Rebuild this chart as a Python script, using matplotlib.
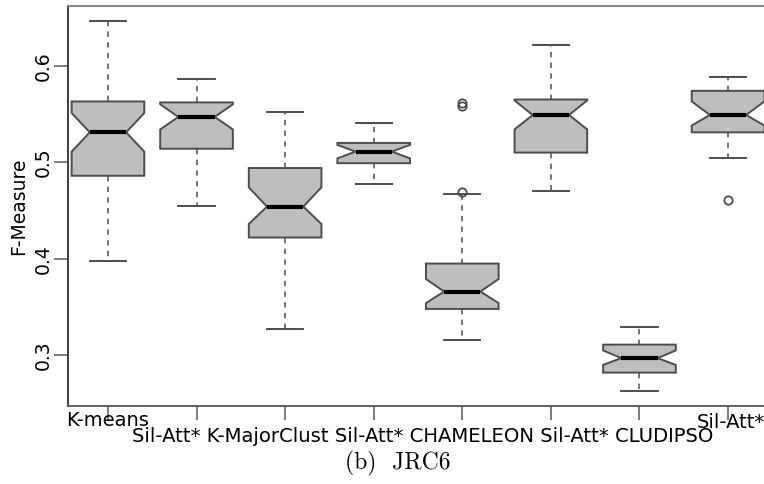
import matplotlib
matplotlib.use("Agg")
import matplotlib.pyplot as plt

# box statistics (F-Measure, JRC6)
methods = ["K-means", "Sil-Att*", "K-MajorClust", "Sil-Att*",
           "CHAMELEON", "Sil-Att*", "CLUDIPSO", "Sil-Att*"]
whis_lo = [0.398, 0.455, 0.327, 0.477, 0.316, 0.470, 0.263, 0.504]
q1 = [0.486, 0.514, 0.422, 0.499, 0.348, 0.510, 0.282, 0.531]
med = [0.531, 0.547, 0.454, 0.511, 0.366, 0.549, 0.297, 0.549]
q3 = [0.563, 0.562, 0.494, 0.520, 0.395, 0.565, 0.311, 0.574]
whis_hi = [0.646, 0.586, 0.552, 0.541, 0.467, 0.621, 0.329, 0.588]
notch_lo = [0.511, 0.534, 0.436, 0.504, 0.354, 0.534, 0.290, 0.538]
notch_hi = [0.551, 0.560, 0.474, 0.518, 0.379, 0.564, 0.305, 0.563]
outliers = [[], [], [], [], [0.561, 0.558, 0.469], [], [], [0.461]]

stats = []
for i in range(len(methods)):
    stats.append(dict(med=med[i], q1=q1[i], q3=q3[i],
                      whislo=whis_lo[i], whishi=whis_hi[i],
                      cilo=notch_lo[i], cihi=notch_hi[i],
                      fliers=outliers[i], label=methods[i]))

fig = plt.figure(figsize=(7.64, 4.84), dpi=100)
ax = fig.add_axes([68/764, 1 - 406/484, 1 - 68/764, 400/484])

edge = "#4d4d4d"
ax.bxp(stats, positions=range(1, 9), widths=0.82, shownotches=True,
       patch_artist=True,
       boxprops=dict(facecolor="#bebebe", edgecolor=edge, linewidth=1.4),
       medianprops=dict(color="black", linewidth=3),
       whiskerprops=dict(color=edge, linewidth=1.1, linestyle=(0, (3.5, 3.5))),
       capprops=dict(color=edge, linewidth=1.4),
       flierprops=dict(marker="o", markersize=6, markerfacecolor="none",
                       markeredgecolor=edge, markeredgewidth=1.3))

ax.set_xlim(0.549, 8.406)
ax.set_ylim(0.2474, 0.6619)
ax.set_yticks([0.3, 0.4, 0.5, 0.6])
ax.set_yticklabels(["0.3", "0.4", "0.5", "0.6"], rotation=90, va="center",
                   fontsize=13.5)
ax.set_xticks(range(1, 9))
ax.set_xticklabels([""] * 8)
ax.tick_params(axis="both", length=10, width=1.2, color="#666666", pad=3)
ax.tick_params(axis="y", pad=1)
ax.set_ylabel("F-Measure", fontsize=13.5, labelpad=4)

ax.spines["right"].set_visible(False)
ax.spines["top"].set_color("#888888")
ax.spines["top"].set_linewidth(1.5)
ax.spines["left"].set_color("#444444")
ax.spines["left"].set_linewidth(1.5)
ax.spines["bottom"].set_color("#555555")
ax.spines["bottom"].set_linewidth(1.3)

# method names: first and last on the upper row, the rest on a lower row
tr = ax.get_xaxis_transform()
ax.text(1, -0.012, methods[0], transform=tr, ha="center", va="top",
        fontsize=14)
ax.text(8.03, -0.017, methods[7], transform=tr, ha="center", va="top",
        fontsize=14)
ax.text(4.55, -0.052, " ".join(methods[1:7]), transform=tr, ha="center",
        va="top", fontsize=14.1)

fig.text(0.521, 0.042, "(b)  JRC6", ha="center", va="center",
         fontsize=17, family="cmr10")

fig.savefig("out.png", dpi=100)
